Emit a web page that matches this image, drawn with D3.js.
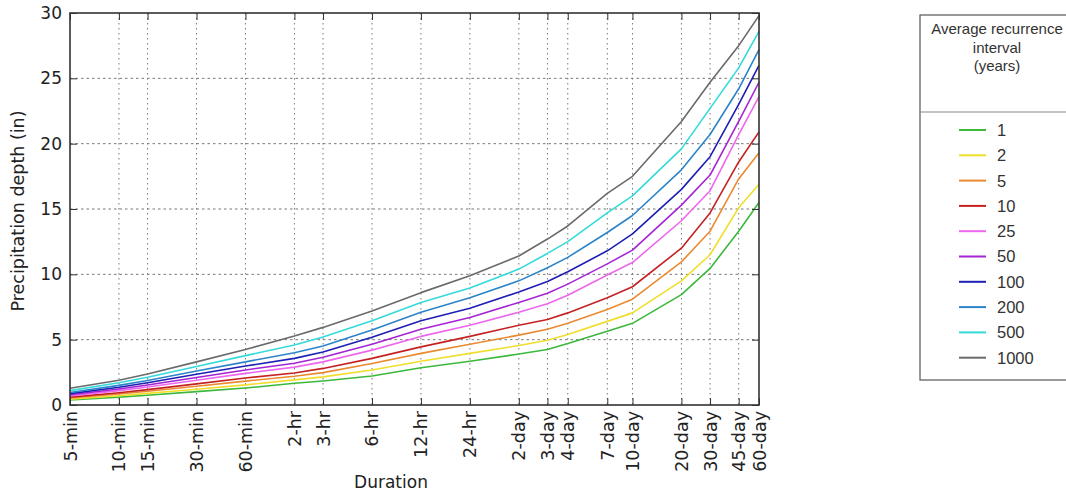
<!DOCTYPE html>
<html>
<head>
<meta charset="utf-8">
<script src="https://cdn.jsdelivr.net/npm/d3@7"></script>
<style>
  html, body { margin: 0; padding: 0; background: #fff; }
  svg { display: block; }
</style>
</head>
<body>
<svg id="chart" width="1066" height="493"></svg>
<script>
// ---------------- DATA ----------------
const durationLabels = ["5-min","10-min","15-min","30-min","60-min","2-hr","3-hr","6-hr","12-hr","24-hr",
  "2-day","3-day","4-day","7-day","10-day","20-day","30-day","45-day","60-day"];
const durationMinutes = [5,10,15,30,60,120,180,360,720,1440,2880,4320,5760,10080,14400,28800,43200,64800,86400];
const yTicks = [0,5,10,15,20,25,30];
const intervals = ["1","2","5","10","25","50","100","200","500","1000"];
const colors = ["#3cb83c","#f0de2c","#ea8a30","#c42222","#ee66ee","#a424d4","#1e1eb4","#2c84c8","#34dada","#6a6a6a"];

const depth1    = [0.38,0.60,0.75,1.02,1.30,1.66,1.84,2.22,2.85,3.35,3.90,4.25,4.70,5.65,6.25,8.45,10.45,13.30,15.50];
const depth2    = [0.45,0.71,0.89,1.21,1.54,1.92,2.15,2.68,3.35,3.95,4.55,4.95,5.40,6.40,7.05,9.50,11.50,15.10,16.90];
const depth5    = [0.53,0.84,1.05,1.43,1.83,2.20,2.48,3.18,3.95,4.65,5.35,5.80,6.25,7.30,8.10,10.95,13.30,17.30,19.30];
const depth10   = [0.60,0.94,1.18,1.62,2.07,2.45,2.80,3.57,4.45,5.25,6.10,6.55,7.05,8.20,9.05,12.00,14.70,18.60,20.90];
const depth25   = [0.70,1.10,1.38,1.90,2.42,2.90,3.30,4.20,5.25,6.10,7.10,7.75,8.40,9.95,10.90,14.10,16.40,20.70,23.60];
const depth50   = [0.78,1.22,1.53,2.10,2.68,3.20,3.65,4.65,5.80,6.70,7.85,8.55,9.25,10.80,11.85,15.30,17.60,21.70,24.70];
const depth100  = [0.87,1.36,1.70,2.35,2.98,3.57,4.05,5.18,6.45,7.40,8.65,9.45,10.20,11.80,13.10,16.50,19.00,23.00,26.00];
const depth200  = [0.96,1.50,1.88,2.60,3.30,4.00,4.52,5.74,7.10,8.20,9.50,10.50,11.30,13.20,14.50,18.00,20.70,24.20,27.20];
const depth500  = [1.10,1.70,2.12,2.95,3.78,4.59,5.20,6.45,7.85,8.95,10.40,11.60,12.50,14.70,16.00,19.60,22.70,25.80,28.60];
const depth1000 = [1.28,1.90,2.37,3.30,4.25,5.28,5.94,7.20,8.60,9.90,11.40,12.70,13.70,16.20,17.50,21.70,24.70,27.50,29.80];

const seriesValues = [depth1,depth2,depth5,depth10,depth25,depth50,depth100,depth200,depth500,depth1000];

// ---------------- CHART ----------------
const svg = d3.select("#chart");
const L = 70, R = 759, T = 13, B = 405;

const x = d3.scaleLog().domain([durationMinutes[0], durationMinutes[durationMinutes.length-1]]).range([L, R]);
const y = d3.scaleLinear().domain([0, 30]).range([B, T]);

const tickFont = "DejaVu Sans, sans-serif";

// grid
const grid = svg.append("g");
grid.selectAll("line.v").data(durationMinutes.slice(1, -1)).enter().append("line")
  .attr("x1", d => x(d)).attr("x2", d => x(d)).attr("y1", T).attr("y2", B)
  .attr("stroke", "#777").attr("stroke-width", 1).attr("stroke-dasharray", "1.5,3.5");
grid.selectAll("line.h").data(yTicks.slice(1, -1)).enter().append("line")
  .attr("x1", L).attr("x2", R).attr("y1", d => y(d)).attr("y2", d => y(d))
  .attr("stroke", "#777").attr("stroke-width", 1).attr("stroke-dasharray", "2.5,3");

// series lines
const line = d3.line().x((d, i) => x(durationMinutes[i])).y(d => y(d));
svg.append("g").selectAll("path").data(seriesValues).enter().append("path")
  .attr("d", d => line(d)).attr("fill", "none")
  .attr("stroke", (d, i) => colors[i]).attr("stroke-width", 1.6)
  .attr("stroke-linejoin", "round");

// axes (inward ticks)
const yAxisL = d3.axisLeft(y).tickValues(yTicks).tickSizeInner(-7).tickSizeOuter(0).tickPadding(8);
const gy = svg.append("g").attr("transform", `translate(${L},0)`).call(yAxisL);
gy.select(".domain").remove();
gy.selectAll("line").attr("stroke", "#333");
gy.selectAll("text").attr("font-family", tickFont).attr("font-size", 17).attr("fill", "#222");

const yAxisR = d3.axisRight(y).tickValues(yTicks).tickSizeInner(-7).tickSizeOuter(0).tickFormat("");
const gyr = svg.append("g").attr("transform", `translate(${R},0)`).call(yAxisR);
gyr.select(".domain").remove();
gyr.selectAll("line").attr("stroke", "#333");

const xAxisB = d3.axisBottom(x).tickValues(durationMinutes).tickSizeInner(-7).tickSizeOuter(0)
  .tickFormat((d, i) => durationLabels[i]);
const gx = svg.append("g").attr("transform", `translate(0,${B})`).call(xAxisB);
gx.select(".domain").remove();
gx.selectAll("line").attr("stroke", "#333");
gx.selectAll("text")
  .attr("font-family", tickFont).attr("font-size", 17.5).attr("fill", "#222")
  .attr("text-anchor", "end").attr("dy", null).attr("y", 0)
  .attr("transform", "translate(6,6) rotate(-90)");

const xAxisT = d3.axisTop(x).tickValues(durationMinutes).tickSizeInner(-7).tickSizeOuter(0).tickFormat("");
const gxt = svg.append("g").attr("transform", `translate(0,${T})`).call(xAxisT);
gxt.select(".domain").remove();
gxt.selectAll("line").attr("stroke", "#333");

// frame
svg.append("rect").attr("x", L).attr("y", T).attr("width", R - L).attr("height", B - T)
  .attr("fill", "none").attr("stroke", "#333").attr("stroke-width", 1.6);

// axis titles
svg.append("text").attr("x", 391).attr("y", 488)
  .attr("text-anchor", "middle").attr("font-family", tickFont).attr("font-size", 17).attr("fill", "#222")
  .text("Duration");
svg.append("text").attr("transform", `translate(24,${(T + B) / 2 + 2}) rotate(-90)`)
  .attr("text-anchor", "middle").attr("font-family", tickFont).attr("font-size", 17.5).attr("fill", "#222")
  .text("Precipitation depth (in)");

// legend
const lg = svg.append("g");
lg.append("rect").attr("x", 920).attr("y", 15).attr("width", 154).attr("height", 365)
  .attr("fill", "#fff").attr("stroke", "#555").attr("stroke-width", 1.2);
lg.append("line").attr("x1", 920).attr("x2", 1074).attr("y1", 112).attr("y2", 112)
  .attr("stroke", "#888").attr("stroke-width", 1.2);
const headerLines = ["Average recurrence", "interval", "(years)"];
lg.selectAll("text.h").data(headerLines).enter().append("text")
  .attr("x", 997).attr("y", (d, i) => 34 + i * 18.5)
  .attr("text-anchor", "middle").attr("font-family", "Liberation Sans, Arial, sans-serif")
  .attr("font-size", 15).attr("fill", "#333").text(d => d);
const items = lg.selectAll("g.item").data(intervals).enter().append("g")
  .attr("transform", (d, i) => `translate(0,${130 + i * 25.3})`);
items.append("line").attr("x1", 959).attr("x2", 986).attr("y1", 0).attr("y2", 0)
  .attr("stroke", (d, i) => colors[i]).attr("stroke-width", 2);
items.append("text").attr("x", 997).attr("y", 0).attr("dy", "0.36em")
  .attr("font-family", "Liberation Sans, Arial, sans-serif").attr("font-size", 16.5).attr("fill", "#333")
  .text(d => d);
</script>
</body>
</html>
